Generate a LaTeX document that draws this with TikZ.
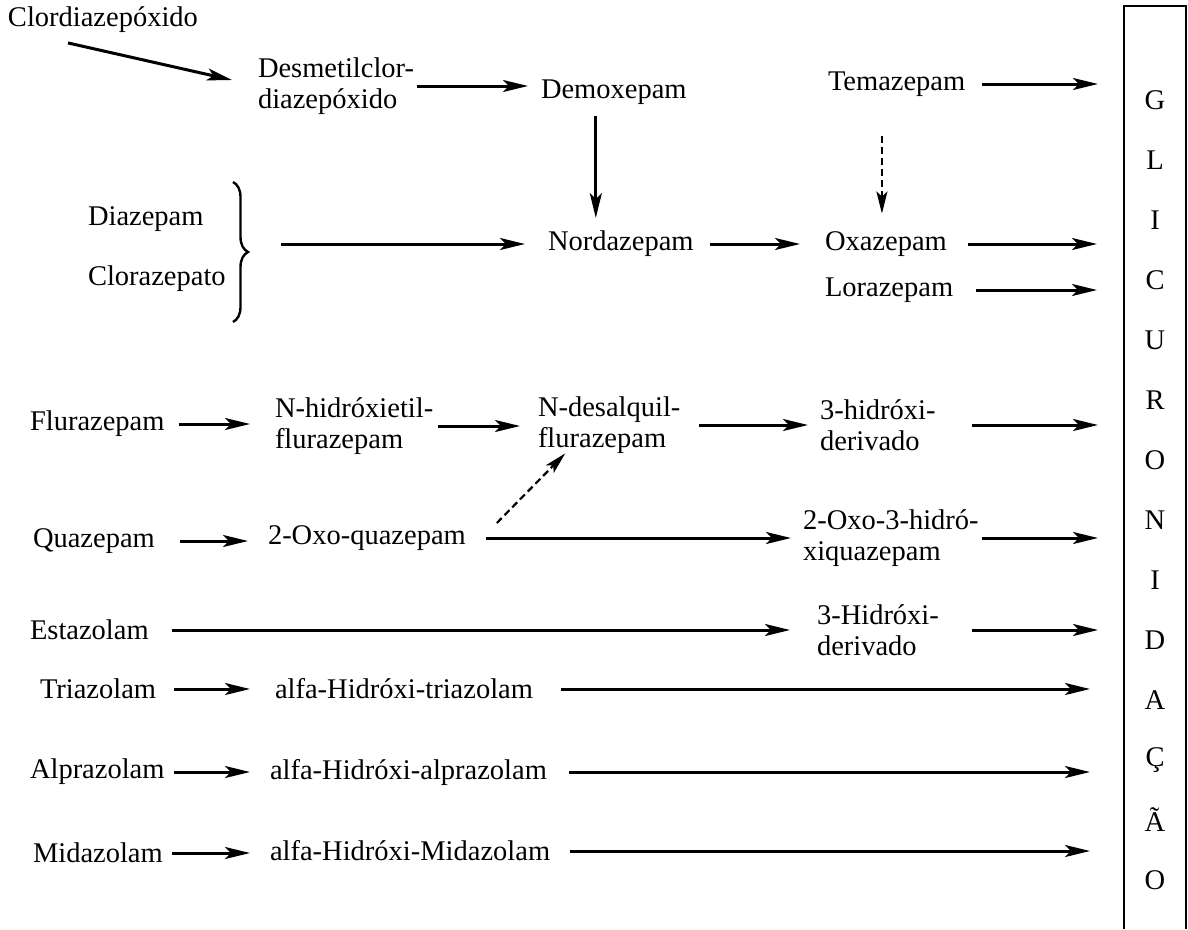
\documentclass[tikz,border=0pt]{standalone}
\usepackage{fontspec}
\setmainfont{Liberation Serif}
\usetikzlibrary{arrows.meta,decorations.pathreplacing}

\begin{document}
\begin{tikzpicture}[x=1pt,y=-1pt,
    font=\fontsize{28.5}{31}\selectfont,
    every node/.style={inner sep=0pt,outer sep=0pt,anchor=west,align=left},
    arr/.style={line width=3pt,-{Stealth[length=25pt,width=12pt,inset=6pt]}},
    dasharr/.style={line width=2.2pt,dash pattern=on 7pt off 4pt,-{Stealth[length=22pt,width=11pt,inset=5pt]}}]
  \useasboundingbox (0,0) rectangle (1188,929);
  % substances
  \node (clor) at (8,20) {Clordiazepóxido};
  \node (desm) at (258,86) {Desmetilclor-\\diazepóxido};
  \node (demox) at (541,92) {Demoxepam};
  \node (tema) at (828,84) {Temazepam};
  \node (diaz) at (88,219) {Diazepam};
  \node (cloraz) at (88,279) {Clorazepato};
  \node (nord) at (548,244) {Nordazepam};
  \node (oxa) at (825,244) {Oxazepam};
  \node (lora) at (825,290) {Lorazepam};
  \node (flur) at (30,424) {Flurazepam};
  \node (nhid) at (275,426) {N-hidróxietil-\\flurazepam};
  \node (ndes) at (538,425) {N-desalquil-\\flurazepam};
  \node (h3a) at (820,425) {3-hidróxi-\\derivado};
  \node (quaz) at (33,541) {Quazepam};
  \node (oxoq) at (268,538) {2-Oxo-quazepam};
  \node (oxo3) at (803,538) {2-Oxo-3-hidró-\\xiquazepam};
  \node (esta) at (30,630) {Estazolam};
  \node (h3b) at (817,630) {3-Hidróxi-\\derivado};
  \node (tria) at (40,689) {Triazolam};
  \node (atria) at (275,689) {alfa-Hidróxi-triazolam};
  \node (alpr) at (30,772) {Alprazolam};
  \node (aalpr) at (270,772) {alfa-Hidróxi-alprazolam};
  \node (mida) at (33,853) {Midazolam};
  \node (amida) at (270,851) {alfa-Hidróxi-Midazolam};
  % glucuronidation box
  \draw[line width=2.8pt] (1124,929) |- (1186,6) -- (1186,929);
  \coordinate (box) at (1124,6);
  \foreach \ch [count=\i from 0] in {G,L,I,C,U,R,O,N,I,D,A,Ç,Ã,O}
    \node[anchor=center] (g\i) at (1155,100+60*\i) {\ch};
  % brace
  \draw[line width=2.4pt,decorate,decoration={brace,amplitude=15pt}] (233,182) -- (233,322);
  \coordinate (bracetip) at (248,252);
  % arrows
  \draw[arr] ([shift={(60,10)}]clor.south west) -- ([shift={(-26,-6)}]desm.west);
  \draw[arr, shorten <=3pt, shorten >=13pt] (desm) -- (desm -| demox.west);
  \draw[arr, shorten <=12pt, shorten >=13pt] ([xshift=-18pt]demox.south) -- ([xshift=-18pt]demox.south |- nord.north);
  \draw[arr, shorten <=17pt, shorten >=26pt] (tema) -- (tema -| box);
  \draw[dasharr, shorten <=40pt, shorten >=18pt] ([xshift=-4pt]oxa.north |- tema.south) -- ([xshift=-4pt]oxa.north);
  \draw[arr, shorten <=33pt, shorten >=23pt] (bracetip |- nord) -- (nord);
  \draw[arr, shorten <=16pt, shorten >=25pt] (nord) -- (oxa);
  \draw[arr, shorten <=21pt, shorten >=27pt] (oxa) -- (oxa -| box);
  \draw[arr, shorten <=23pt, shorten >=27pt] (lora) -- (lora -| box);
  \draw[arr, shorten <=14pt, shorten >=25pt] (flur) -- (flur -| nhid.west);
  \draw[arr, shorten <=5pt, shorten >=18pt] (nhid) -- (nhid -| ndes.west);
  \draw[arr, shorten <=19pt, shorten >=12pt] (ndes) -- (ndes -| h3a.west);
  \draw[arr, shorten <=36pt, shorten >=26pt] (h3a) -- (h3a -| box);
  \draw[arr, shorten <=25pt, shorten >=20pt] (quaz) -- (quaz -| oxoq.west);
  \draw[arr, shorten <=20pt, shorten >=12pt] (oxoq) -- (oxoq -| oxo3.west);
  \draw[dasharr] ([shift={(31,-15)}]oxoq.east) -- ([xshift=-44pt]ndes.south);
  \draw[arr, shorten <=3pt, shorten >=26pt] (oxo3) -- (oxo3 -| box);
  \draw[arr, shorten <=23pt, shorten >=27pt] (esta) -- (esta -| h3b.west);
  \draw[arr, shorten <=33pt, shorten >=26pt] (h3b) -- (h3b -| box);
  \draw[arr, shorten <=18pt, shorten >=25pt] (tria) -- (tria -| atria.west);
  \draw[arr, shorten <=28pt, shorten >=34pt] (atria) -- (atria -| box);
  \draw[arr, shorten <=9pt, shorten >=20pt] (alpr) -- (alpr -| aalpr.west);
  \draw[arr, shorten <=22pt, shorten >=34pt] (aalpr) -- (aalpr -| box);
  \draw[arr, shorten <=9pt, shorten >=20pt] (mida) -- (mida -| amida.west);
  \draw[arr, shorten <=20pt, shorten >=34pt] (amida) -- (amida -| box);
\end{tikzpicture}
\end{document}
